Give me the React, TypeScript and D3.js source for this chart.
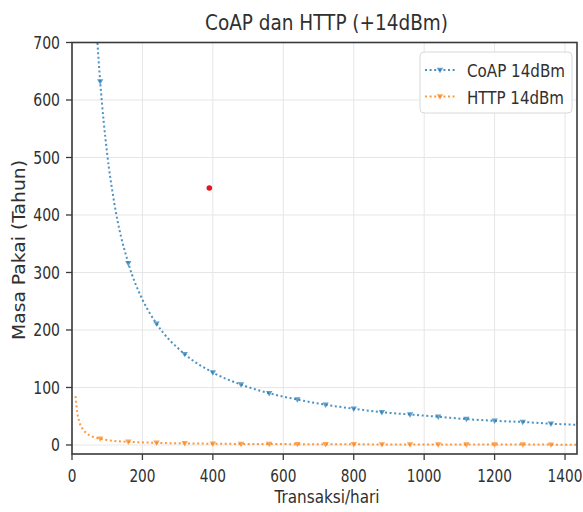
import React from "react";
import * as d3 from "d3";

const title = "CoAP dan HTTP (+14dBm)";
const xLabel = "Transaksi/hari";
const yLabel = "Masa Pakai (Tahun)";
const xTicks = [0, 200, 400, 600, 800, 1000, 1200, 1400];
const yTicks = [0, 100, 200, 300, 400, 500, 600, 700];

// line points (dense near start to follow the curve)
const coapX = [60, 70, 75, 80, 100, 120, 160, 200, 240, 320, 400, 480, 560, 640, 720, 800, 880, 960, 1040, 1120, 1200, 1280, 1360, 1440];
const coapY = [843, 722, 674, 632, 506, 421, 316, 253, 211, 158, 126, 105, 90, 79, 70, 63, 57, 53, 49, 45, 42, 40, 37, 35];
const httpX = [10, 15, 20, 30, 40, 60, 80, 120, 160, 240, 320, 400, 480, 560, 640, 720, 800, 880, 960, 1040, 1120, 1200, 1280, 1360, 1440];
const httpY = [85, 57, 42, 28, 21, 14, 11, 7, 5.5, 3.7, 2.8, 2.2, 1.8, 1.6, 1.4, 1.2, 1.1, 1.0, 0.9, 0.8, 0.8, 0.7, 0.7, 0.6, 0.6];
const markerX = [80, 160, 240, 320, 400, 480, 560, 640, 720, 800, 880, 960, 1040, 1120, 1200, 1280, 1360, 1440];
const strayPoint = [{ x: 390, y: 447 }];

const seriesNames = ["CoAP 14dBm", "HTTP 14dBm"];
const colors = ["#1f77b4", "#ff7f0e"];

const W = 583, H = 512;
const L = 72, R = 577, T = 42.5, B = 454;

export default function App() {
  const x = d3.scaleLinear().domain([0, 1434]).range([L, R]);
  const y = d3.scaleLinear().domain([-15.7, 700]).range([B, T]);
  const line = d3.line<[number, number]>().x(d => x(d[0])).y(d => y(d[1])).curve(d3.curveMonotoneX);
  const series = [
    { xs: coapX, ys: coapY },
    { xs: httpX, ys: httpY },
  ];
  const tri = (cx: number, cy: number, s: number) =>
    `M${cx - s},${cy - s * 0.7}L${cx + s},${cy - s * 0.7}L${cx},${cy + s}Z`;
  const font = "DejaVu Sans, sans-serif";
  const txt = "#303030";

  return (
    <svg width={W} height={H} style={{ position: "absolute", left: 0, top: 0, background: "#fff" }} fontFamily={font}>
      <defs>
        <clipPath id="plot">
          <rect x={L} y={T} width={R - L} height={B - T} />
        </clipPath>
      </defs>
      {/* grid */}
      {xTicks.map(t => (
        <line key={"gx" + t} x1={x(t)} x2={x(t)} y1={T} y2={B} stroke="#e6e6e6" strokeWidth={1} />
      ))}
      {yTicks.map(t => (
        <line key={"gy" + t} x1={L} x2={R} y1={y(t)} y2={y(t)} stroke="#e6e6e6" strokeWidth={1} />
      ))}
      <g clipPath="url(#plot)">
        {series.map((s, i) => {
          const pts = s.xs.map((v, j) => [v, s.ys[j]] as [number, number]);
          return (
            <g key={i}>
              <path d={line(pts) || ""} fill="none" stroke={colors[i]} strokeWidth={2} strokeDasharray="2,2.6" opacity={0.8} />
              {pts.filter(p => markerX.includes(p[0])).map((p, j) => (
                <path key={j} d={tri(x(p[0]), y(p[1]), 3.2)} fill={colors[i]} opacity={0.7} />
              ))}
            </g>
          );
        })}
        {strayPoint.map((p, i) => (
          <circle key={i} cx={x(p.x)} cy={y(p.y)} r={2.8} fill="#e8141c" />
        ))}
      </g>
      {/* spines */}
      <rect x={L} y={T} width={R - L} height={B - T} fill="none" stroke="#3a3a3a" strokeWidth={1.6} />
      {/* x ticks */}
      {xTicks.map(t => (
        <g key={"xt" + t}>
          <line x1={x(t)} x2={x(t)} y1={B} y2={B + 6} stroke="#3a3a3a" strokeWidth={1.3} />
          <text transform={`translate(${x(t)},481.5) scale(0.74,1)`} textAnchor="middle" fontSize={18.5} fill={txt}>{t}</text>
        </g>
      ))}
      {/* y ticks */}
      {yTicks.map(t => (
        <g key={"yt" + t}>
          <line x1={L - 6} x2={L} y1={y(t)} y2={y(t)} stroke="#3a3a3a" strokeWidth={1.3} />
          <text transform={`translate(60,${y(t) + 6.5}) scale(0.78,1)`} textAnchor="end" fontSize={18} fill={txt}>{t}</text>
        </g>
      ))}
      {/* title and labels */}
      <text x={326.5} y={30} textAnchor="middle" fontSize={22} fill={txt} textLength={243} lengthAdjust="spacingAndGlyphs">{title}</text>
      <text x={327} y={503} textAnchor="middle" fontSize={17} fill={txt} textLength={105} lengthAdjust="spacingAndGlyphs">{xLabel}</text>
      <text transform="translate(25,250) rotate(-90)" textAnchor="middle" fontSize={18} fill={txt} textLength={180} lengthAdjust="spacingAndGlyphs">{yLabel}</text>
      {/* legend */}
      <rect x={420} y={52} width={152} height={61} rx={4} fill="#fff" fillOpacity={0.85} stroke="#d8d8d8" strokeWidth={1} />
      {seriesNames.map((n, i) => {
        const cy = 70 + i * 26.5;
        return (
          <g key={n}>
            <line x1={425} x2={455} y1={cy} y2={cy} stroke={colors[i]} strokeWidth={2} strokeDasharray="2,2.6" opacity={0.8} />
            <path d={tri(440, cy, 3.2)} fill={colors[i]} opacity={0.7} />
            <text x={467} y={cy + 7} fontSize={18} fill={txt} textLength={i === 0 ? 98 : 97} lengthAdjust="spacingAndGlyphs">{n}</text>
          </g>
        );
      })}
    </svg>
  );
}
